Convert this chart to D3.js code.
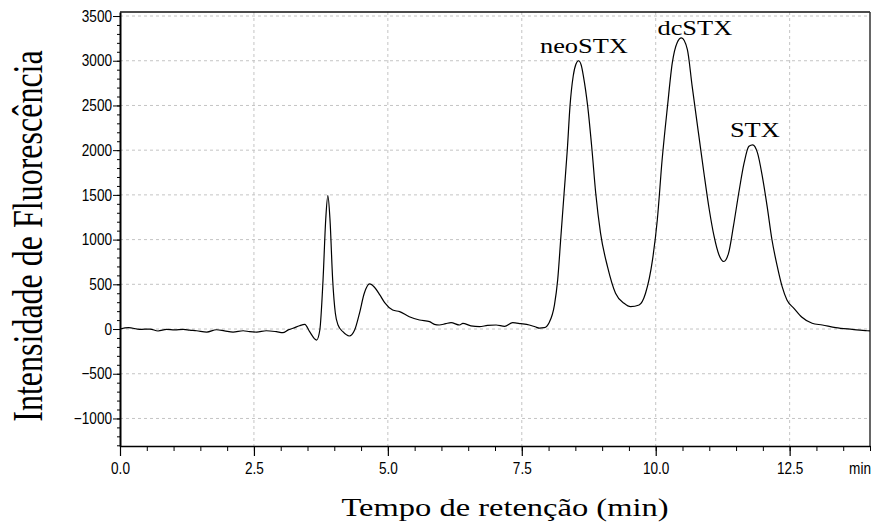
<!DOCTYPE html>
<html>
<head>
<meta charset="utf-8">
<script src="https://cdn.jsdelivr.net/npm/d3@7"></script>
<style>
  body { margin: 0; background: #fff; }
  .tick text, .unit {
    font-family: "Liberation Sans", Arial, sans-serif;
    font-size: 16px;
    fill: #000;
  }
  .serif { font-family: "Liberation Serif", "Times New Roman", serif; fill: #000; }
</style>
</head>
<body>
<div id="wrapper"></div>
<script>
/*global d3*/

// chromatogram (min, fluorescence units)
const retentionTime = [
  0, 0.16, 0.37, 0.56, 0.71, 0.87, 1.02, 1.18, 1.30, 1.43,
  1.62, 1.80, 1.95, 2.11, 2.30, 2.42, 2.55, 2.73, 2.92, 3.04,
  3.14, 3.23, 3.35, 3.45, 3.54, 3.67, 3.73, 3.79, 3.84, 3.88,
  3.92, 3.97, 4.02, 4.07, 4.16, 4.28, 4.38, 4.47, 4.56, 4.66,
  4.75, 4.85, 4.94, 5.09, 5.22, 5.40, 5.59, 5.78, 5.87, 5.96,
  6.08, 6.18, 6.34, 6.40, 6.55, 6.71, 6.86, 7.02, 7.18, 7.33,
  7.48, 7.64, 7.75, 7.83, 7.92, 8.01, 8.11, 8.17, 8.23, 8.29,
  8.35, 8.40, 8.46, 8.51, 8.56, 8.61, 8.65, 8.73, 8.81, 8.88,
  8.97, 9.10, 9.25, 9.41, 9.53, 9.69, 9.81, 9.94, 10.03, 10.12,
  10.22, 10.31, 10.40, 10.48, 10.59, 10.68, 10.81, 10.90, 11.00, 11.09,
  11.18, 11.27, 11.36, 11.45, 11.55, 11.65, 11.74, 11.81, 11.90, 11.99,
  12.08, 12.17, 12.27, 12.36, 12.45, 12.58, 12.73, 12.92, 13.11, 13.36,
  13.67, 13.95, 14.00
]
const fluorescence = [
  0, 15, -4, 0, -22, -4, -10, -4, -12, -19,
  -34, -8, -20, -34, -19, -30, -34, -19, -30, -41,
  -10, 8, 37, 52, -30, -123, -11, 549, 1222, 1491,
  1222, 549, 176, 45, -30, -78, -11, 176, 400, 504,
  467, 381, 295, 213, 194, 138, 101, 82, 52, 45,
  60, 71, 45, 64, 35, 26, 40, 45, 30, 71,
  60, 45, 25, 10, 15, 70, 270, 549, 1035, 1521,
  2007, 2492, 2829, 2960, 3000, 2950, 2829, 2492, 2007, 1521,
  1073, 698, 400, 288, 250, 269, 400, 773, 1222, 1895,
  2492, 2978, 3202, 3255, 3128, 2717, 2140, 1745, 1334, 1035,
  830, 755, 849, 1147, 1521, 1857, 2044, 2060, 1970, 1708,
  1372, 998, 698, 474, 325, 232, 131, 64, 45, 15,
  -4, -19, -20
]

// peak annotations (placed in data units)
const peakNames = ["neoSTX", "dcSTX", "STX"]
const peakLabelTime = [8.66, 10.73, 11.85]
const peakLabelValue = [3083, 3287, 2147]

const xTicks = [0, 2.5, 5, 7.5, 10, 12.5]
const yTicks = [-1000, -500, 0, 500, 1000, 1500, 2000, 2500, 3000, 3500]
const xDomain = [0, 14]
const yDomain = [-1308, 3545]
const xUnit = "min"
const xTitle = "Tempo de retenção (min)"
const yTitle = "Intensidade de Fluorescência"

function drawChromatogram() {

    const data = retentionTime.map((t, i) => ({ t: t, v: fluorescence[i] }))
    const xAccessor = d => d.t
    const yAccessor = d => d.v

    // narrow look of the instrument's tick font
    const squeeze = 0.85

    // dims
    let dims = {
        width: 873,
        height: 527,
        margin: { top: 12, right: 3, bottom: 81, left: 120 }
    }
    dims.boundedWidth = dims.width - dims.margin.left - dims.margin.right
    dims.boundedHeight = dims.height - dims.margin.top - dims.margin.bottom

    // canvas
    const wrapper = d3.select("#wrapper")
        .append("svg")
        .attr("width", dims.width)
        .attr("height", dims.height)

    const bounds = wrapper.append("g")
        .attr("transform", `translate(${dims.margin.left},${dims.margin.top})`)

    // scales
    const xScale = d3.scaleLinear()
        .domain(xDomain)
        .range([0, dims.boundedWidth])

    const yScale = d3.scaleLinear()
        .domain(yDomain)
        .range([dims.boundedHeight, 0])

    // grid
    bounds.append("g")
        .selectAll("line")
        .data(yTicks)
        .join("line")
        .attr("x1", 0)
        .attr("x2", dims.boundedWidth)
        .attr("y1", d => yScale(d))
        .attr("y2", d => yScale(d))
        .attr("stroke", "#c4c4c4")
        .attr("stroke-dasharray", "3,3")

    bounds.append("g")
        .selectAll("line")
        .data(xTicks.filter(d => d > 0))
        .join("line")
        .attr("x1", d => xScale(d))
        .attr("x2", d => xScale(d))
        .attr("y1", 0)
        .attr("y2", dims.boundedHeight)
        .attr("stroke", "#c4c4c4")
        .attr("stroke-dasharray", "3,3")

    // frame (top + right)
    bounds.append("line")
        .attr("x1", 0).attr("x2", dims.boundedWidth)
        .attr("y1", 0).attr("y2", 0)
        .attr("stroke", "#111").attr("stroke-width", 1.5)
    bounds.append("line")
        .attr("x1", dims.boundedWidth).attr("x2", dims.boundedWidth)
        .attr("y1", 0).attr("y2", dims.boundedHeight)
        .attr("stroke", "#333").attr("stroke-width", 1.5)

    // data
    const lineGenerator = d3.line()
        .x(d => xScale(xAccessor(d)))
        .y(d => yScale(yAccessor(d)))
        .curve(d3.curveMonotoneX)

    bounds.append("path")
        .attr("d", lineGenerator(data))
        .attr("fill", "none")
        .attr("stroke", "#000")
        .attr("stroke-width", 1.2)

    // peripherals
    const xMinor = bounds.append("g")
        .attr("transform", `translate(0,${dims.boundedHeight})`)
        .call(d3.axisBottom(xScale)
            .tickValues(d3.range(0, 14.01, 0.5))
            .tickSize(5)
            .tickSizeOuter(0)
            .tickFormat(""))
    xMinor.select(".domain").remove()

    const xAxis = bounds.append("g")
        .attr("transform", `translate(0,${dims.boundedHeight})`)
        .call(d3.axisBottom(xScale)
            .tickValues(xTicks)
            .tickSize(10)
            .tickSizeOuter(0)
            .tickPadding(7)
            .tickFormat(d3.format(".1f")))
    xAxis.select(".domain").attr("stroke-width", 1.5)
    xAxis.selectAll(".tick line").attr("stroke-width", 1.2)
    xAxis.selectAll(".tick text").attr("transform", `scale(${squeeze},1)`)

    xAxis.append("text")
        .attr("class", "unit")
        .attr("transform", `translate(${dims.boundedWidth + 1},17) scale(${squeeze},1)`)
        .attr("dy", "0.71em")
        .attr("text-anchor", "end")
        .text(xUnit)

    const yMinor = bounds.append("g")
        .call(d3.axisLeft(yScale)
            .tickValues(d3.range(-1300, 3501, 100))
            .tickSize(3)
            .tickSizeOuter(0)
            .tickFormat(""))
    yMinor.select(".domain").remove()

    const yAxis = bounds.append("g")
        .call(d3.axisLeft(yScale)
            .tickValues(yTicks)
            .tickSize(7)
            .tickSizeOuter(0)
            .tickPadding(1)
            .tickFormat(d3.format("d")))
    yAxis.select(".domain").attr("stroke-width", 2)
    yAxis.selectAll(".tick text")
        .attr("x", -8 / squeeze)
        .attr("transform", `scale(${squeeze},1)`)

    // titles (source picture is stretched sideways, so widen the glyphs)
    wrapper.append("text")
        .attr("class", "serif")
        .attr("transform", "translate(505,516) scale(1.3,1)")
        .attr("text-anchor", "middle")
        .style("font-size", "25px")
        .text(xTitle)

    wrapper.append("text")
        .attr("class", "serif")
        .attr("transform", "translate(42,236) scale(1.3,1) rotate(-90)")
        .attr("text-anchor", "middle")
        .style("font-size", "32px")
        .text(yTitle)

    bounds.append("g")
        .selectAll("text")
        .data(peakNames)
        .join("text")
        .attr("class", "serif")
        .attr("transform", (d, i) => `translate(${xScale(peakLabelTime[i])},${yScale(peakLabelValue[i])}) scale(1.2,1)`)
        .attr("text-anchor", "middle")
        .style("font-size", "22px")
        .text(d => d)
}

drawChromatogram()
</script>
</body>
</html>
